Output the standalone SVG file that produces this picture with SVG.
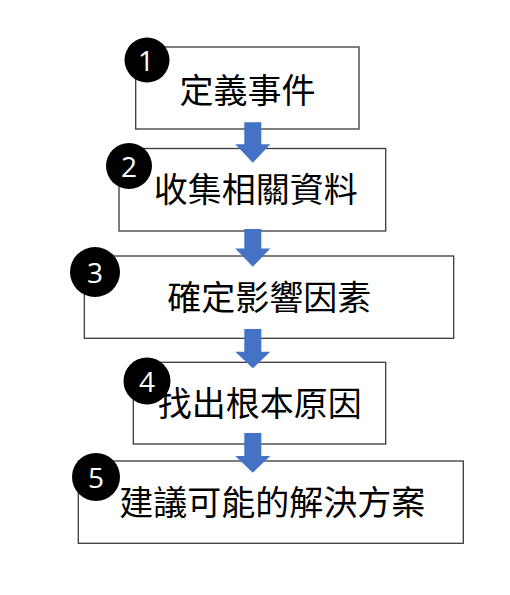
<svg xmlns="http://www.w3.org/2000/svg" width="510" height="595" viewBox="0 0 510 595">
<style>
.box{fill:#fff;stroke:#3a3a3a;stroke-width:1.3}
.lbl{font-family:"Noto Sans CJK TC","Noto Sans CJK SC",sans-serif;font-size:34px;fill:#000;text-anchor:middle}
.num{fill:#000}
.nt{font-family:"Open Sans","Liberation Sans",sans-serif;font-size:28px;fill:#fff;text-anchor:middle;dominant-baseline:central}
.arr{fill:#4472C4}
</style>
<rect width="510" height="595" fill="#fff"/>
<g id="node1">
<rect class="box" x="135.7" y="47" width="223.3" height="82"/>
<text class="lbl" x="247.5" y="103">定義事件</text>
<circle class="num" cx="147" cy="60" r="22.5"/>
<text class="nt" x="146" y="60">1</text>
</g>
<g id="node2">
<rect class="box" x="119" y="148.5" width="266.7" height="82.5"/>
<text class="lbl" x="255.8" y="202">收集相關資料</text>
<circle class="num" cx="129" cy="166" r="23"/>
<text class="nt" x="129" y="166">2</text>
</g>
<g id="node3">
<rect class="box" x="84.3" y="256" width="369.4" height="82.3"/>
<text class="lbl" x="269.2" y="310">確定影響因素</text>
<circle class="num" cx="95" cy="272" r="25"/>
<text class="nt" x="95" y="272">3</text>
</g>
<g id="node4">
<rect class="box" x="133.3" y="362.3" width="252.4" height="81.7"/>
<text class="lbl" x="259.7" y="416">找出根本原因</text>
<circle class="num" cx="147" cy="381" r="23.5"/>
<text class="nt" x="147" y="381">4</text>
</g>
<g id="node5">
<rect class="box" x="78.3" y="461" width="385" height="82.3"/>
<text class="lbl" x="272.2" y="515">建議可能的解決方案</text>
<circle class="num" cx="96" cy="477" r="24"/>
<text class="nt" x="96" y="477">5</text>
</g>
<g id="connectors">
<polygon class="arr" points="244.3,122.3 261.3,122.3 261.3,144.3 270.3,144.3 252.8,162.7 235.3,144.3 244.3,144.3"/>
<polygon class="arr" points="244.3,229 261.3,229 261.3,248.4 270.3,248.4 252.8,266.7 235.3,248.4 244.3,248.4"/>
<polygon class="arr" points="244.3,329 261.3,329 261.3,351.7 270.3,351.7 252.8,368.3 235.3,351.7 244.3,351.7"/>
<polygon class="arr" points="244.3,433 261.3,433 261.3,456 270.3,456 252.8,472.7 235.3,456 244.3,456"/>
</g>
</svg>
